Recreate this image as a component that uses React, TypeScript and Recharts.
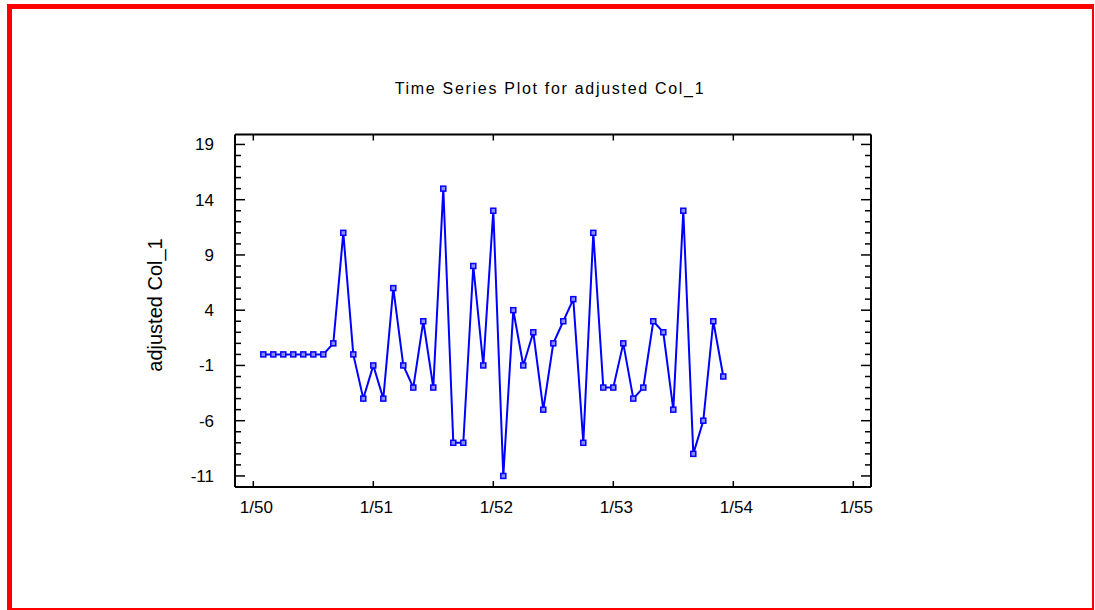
import { LineChart, Line, XAxis, YAxis } from 'recharts';

// adjusted Col_1, monthly from 2/50 to 12/53
const values = [
  0, 0, 0, 0, 0, 0, 0, 1, 11, 0, -4, -1,
  -4, 6, -1, -3, 3, -3, 15, -8, -8, 8, -1, 13,
  -11, 4, -1, 2, -5, 1, 3, 5, -8, 11, -3, -3,
  1, -4, -3, 3, 2, -5, 13, -9, -6, 3, -2,
];
const firstMonth = 1; // months after 1/50

const xTicks = [0, 12, 24, 36, 48, 60];
const xTickLabels = ['1/50', '1/51', '1/52', '1/53', '1/54', '1/55'];
const yMajorTicks = [-11, -6, -1, 4, 9, 14, 19];

const yTicks: number[] = [];
for (let v = -11; v <= 19; v++) yTicks.push(v);

const data = values.map((v, i) => ({ month: firstMonth + i, value: v }));

const FONT = "Arial, 'Liberation Sans', sans-serif";
const xDomain = [-1.83, 61.77];
const yDomain = [-12, 19.9];

const SquareDot = (props: any) => {
  const { cx, cy, index } = props;
  if (cx == null || cy == null) return null;
  return (
    <rect key={index} x={cx - 2.5} y={cy - 2.5} width={5} height={5}
      fill="#8c8cff" stroke="#0000ff" strokeWidth={1.5} />
  );
};

const BottomTick = (props: any) => {
  const { x, y, payload } = props;
  const i = xTicks.indexOf(payload.value);
  return (
    <g>
      <line x1={x} y1={y} x2={x} y2={y - 6} stroke="#000" strokeWidth={1.5} />
      <text x={x + 3} y={y + 26} textAnchor="middle" fontSize={17} fontFamily={FONT} fill="#000">
        {xTickLabels[i]}
      </text>
    </g>
  );
};

const TopTick = (props: any) => {
  const { x, y } = props;
  return <line x1={x} y1={y} x2={x} y2={y + 6} stroke="#000" strokeWidth={1.5} />;
};

const LeftTick = (props: any) => {
  const { x, y, payload } = props;
  const major = yMajorTicks.includes(payload.value);
  return (
    <g>
      <line x1={x} y1={y} x2={x + (major ? 10 : 6)} y2={y} stroke="#000" strokeWidth={1.5} />
      {major && (
        <text x={x - 21} y={y + 6} textAnchor="end" fontSize={17} fontFamily={FONT} fill="#000">
          {payload.value}
        </text>
      )}
    </g>
  );
};

const RightTick = (props: any) => {
  const { x, y, payload } = props;
  const major = yMajorTicks.includes(payload.value);
  return <line x1={x} y1={y} x2={x - (major ? 10 : 6)} y2={y} stroke="#000" strokeWidth={1.5} />;
};

export default function App() {
  return (
    <div style={{ position: 'absolute', left: 0, top: 0, width: 1095, height: 610, background: '#fff', fontFamily: FONT }}>
      <div
        style={{
          position: 'absolute', left: 7, top: 4, width: 1087, height: 606, boxSizing: 'border-box',
          borderStyle: 'solid', borderColor: '#ff0000',
          borderTopWidth: 5, borderLeftWidth: 5, borderRightWidth: 2, borderBottomWidth: 2,
        }}
      />
      <div
        style={{
          position: 'absolute', left: 0, top: 81, width: 1100, textAlign: 'center',
          fontSize: 16, lineHeight: '16px', letterSpacing: 1.7, color: '#000',
        }}
      >
        Time Series Plot for adjusted Col_1
      </div>
      <div
        style={{
          position: 'absolute', left: 55, top: 295, width: 200, height: 20, lineHeight: '20px',
          textAlign: 'center', fontSize: 20, color: '#000', transform: 'rotate(-90deg)',
        }}
      >
        adjusted Col_1
      </div>
      <div style={{ position: 'absolute', left: 0, top: 0 }}>
        <LineChart width={1095} height={610} data={data}
          margin={{ top: 133.5, right: 223, bottom: 83, left: 175 }}>
          <XAxis xAxisId="b" dataKey="month" type="number" domain={xDomain} allowDataOverflow
            ticks={xTicks} interval={0} height={40} tickSize={0} tickMargin={0}
            axisLine={{ stroke: '#000', strokeWidth: 2 }} tickLine={false} tick={BottomTick} />
          <XAxis xAxisId="t" orientation="top" dataKey="month" type="number" domain={xDomain} allowDataOverflow
            ticks={xTicks} interval={0} height={1} tickSize={0} tickMargin={0}
            axisLine={{ stroke: '#000', strokeWidth: 2 }} tickLine={false} tick={TopTick} />
          <YAxis yAxisId="l" type="number" domain={yDomain} allowDataOverflow
            ticks={yTicks} interval={0} width={60} tickSize={0} tickMargin={0}
            axisLine={{ stroke: '#000', strokeWidth: 2 }} tickLine={false} tick={LeftTick} />
          <YAxis yAxisId="r" orientation="right" type="number" domain={yDomain} allowDataOverflow
            ticks={yTicks} interval={0} width={1} tickSize={0} tickMargin={0}
            axisLine={{ stroke: '#000', strokeWidth: 2 }} tickLine={false} tick={RightTick} />
          <Line xAxisId="t" yAxisId="r" dataKey="value" stroke="none" dot={false}
            isAnimationActive={false} legendType="none" />
          <Line xAxisId="b" yAxisId="l" dataKey="value" type="linear" stroke="#0000ff" strokeWidth={2}
            dot={SquareDot} activeDot={false} isAnimationActive={false} />
        </LineChart>
      </div>
    </div>
  );
}
